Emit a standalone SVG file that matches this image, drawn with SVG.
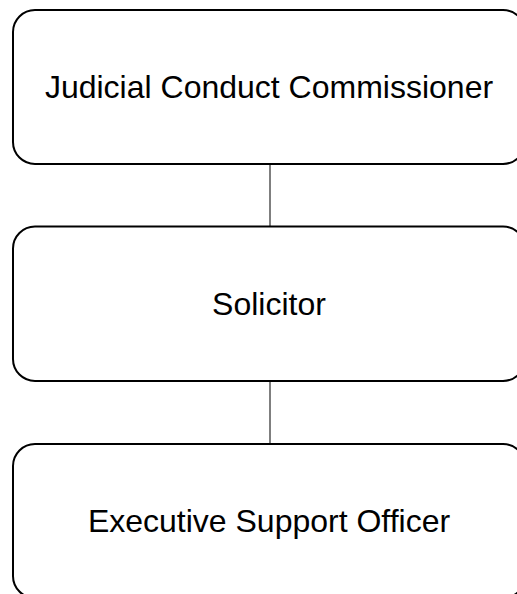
<svg xmlns="http://www.w3.org/2000/svg" width="517" height="594" viewBox="0 0 517 594">
<style>
.box{fill:#fff;stroke:#000;stroke-width:2}
.lbl{font-family:"Liberation Sans",Arial,sans-serif;font-size:32px;fill:#000;text-anchor:middle}
.conn{stroke:#555;stroke-width:1.5;fill:none}
</style>
<rect width="517" height="594" fill="#fff"/>
<g id="connectors">
<line class="conn" x1="270" y1="164" x2="270" y2="226"/>
<line class="conn" x1="270" y1="381" x2="270" y2="444"/>
</g>
<g id="n1">
<rect class="box" x="13" y="10" width="512" height="154" rx="22" ry="22"/>
<text class="lbl" x="269" y="98">Judicial Conduct Commissioner</text>
</g>
<g id="n2">
<rect class="box" x="13" y="226.5" width="512" height="154.5" rx="22" ry="22"/>
<text class="lbl" x="269" y="315">Solicitor</text>
</g>
<g id="n3">
<rect class="box" x="13" y="444" width="512" height="154" rx="22" ry="22"/>
<text class="lbl" x="269" y="532">Executive Support Officer</text>
</g>
</svg>
